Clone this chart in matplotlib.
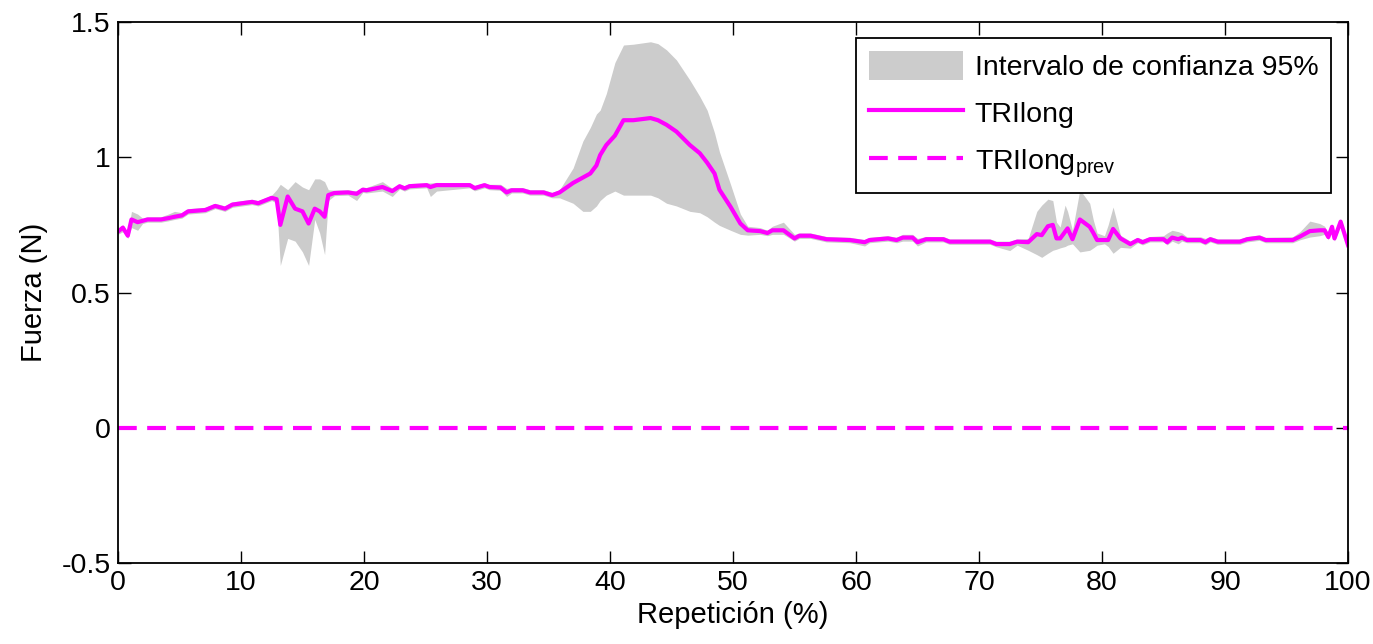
import numpy as np
import matplotlib
matplotlib.use("Agg")
import matplotlib.pyplot as plt

plt.rcParams['font.family'] = ['Liberation Sans', 'DejaVu Sans']
plt.rcParams['mathtext.fontset'] = 'custom'
plt.rcParams['mathtext.rm'] = 'Liberation Sans'

# Repetition (%) sample positions
x = [0.0, 0.4, 0.8, 1.1, 1.6, 2.0, 2.4, 3.5, 4.1, 4.6, 5.2, 5.7, 7.1, 7.9, 8.7,
     9.3, 10.9, 11.4, 12.5, 12.9, 13.2, 13.8, 14.4, 15.0, 15.5, 16.0, 16.4, 16.8,
     17.1, 17.6, 18.7, 19.4, 19.9, 20.2, 21.5, 22.3, 22.9, 23.3, 23.7, 25.1, 25.4,
     25.9, 28.6, 29.0, 29.8, 30.2, 31.1, 31.6, 32.0, 32.9, 33.5, 34.6, 35.3, 35.9,
     37.0, 37.8, 38.4, 38.9, 39.2, 39.7, 40.4, 41.1, 41.9, 43.3, 43.9, 44.6, 45.4,
     46.5, 47.3, 47.9, 48.5, 48.9, 49.8, 50.6, 51.2, 52.2, 52.8, 53.2, 54.1, 55.0,
     55.4, 56.3, 57.6, 59.5, 60.7, 61.1, 62.6, 63.3, 63.8, 64.6, 65.0, 65.7, 67.1,
     67.6, 70.9, 71.4, 72.5, 73.1, 74.0, 74.7, 75.1, 75.6, 76.0, 76.3, 76.6, 77.0,
     77.2, 77.6, 78.2, 79.0, 79.3, 79.6, 80.2, 80.5, 80.9, 81.5, 82.3, 82.9, 83.3,
     83.9, 85.0, 85.3, 85.7, 86.2, 86.5, 86.9, 88.0, 88.4, 88.8, 89.4, 91.2, 91.8,
     92.8, 93.3, 95.5, 96.1, 96.9, 97.7, 98.1, 98.4, 98.7, 98.9, 99.4, 100.0]

# mean force TRIlong (N)
mean = [0.725, 0.74, 0.71, 0.77, 0.76, 0.765, 0.77, 0.77, 0.775, 0.78, 0.785, 0.80, 0.805, 0.82, 0.81,
        0.825, 0.835, 0.83, 0.85, 0.845, 0.75, 0.855, 0.81, 0.80, 0.755, 0.81, 0.80, 0.78,
        0.86, 0.868, 0.87, 0.865, 0.88, 0.878, 0.89, 0.875, 0.893, 0.885, 0.893, 0.897, 0.89,
        0.897, 0.897, 0.886, 0.897, 0.89, 0.888, 0.87, 0.878, 0.878, 0.87, 0.87, 0.86, 0.87,
        0.905, 0.925, 0.94, 0.97, 1.008, 1.045, 1.08, 1.137, 1.137, 1.145, 1.137, 1.12, 1.095,
        1.045, 1.015, 0.98, 0.94, 0.88, 0.817, 0.755, 0.73, 0.727, 0.72, 0.73, 0.73, 0.70,
        0.71, 0.71, 0.697, 0.694, 0.686, 0.694, 0.70, 0.694, 0.703, 0.703, 0.686, 0.697, 0.697,
        0.688, 0.688, 0.679, 0.679, 0.688, 0.686, 0.716, 0.712, 0.745, 0.75, 0.70, 0.70, 0.725,
        0.737, 0.697, 0.77, 0.743, 0.72, 0.694, 0.694, 0.694, 0.735, 0.70, 0.679, 0.694, 0.686,
        0.697, 0.697, 0.686, 0.703, 0.697, 0.703, 0.694, 0.694, 0.686, 0.697, 0.688, 0.688, 0.697,
        0.703, 0.694, 0.694, 0.707, 0.727, 0.73, 0.73, 0.705, 0.743, 0.70, 0.762, 0.675]

# 95% confidence interval bounds
lower = [0.715, 0.725, 0.70, 0.74, 0.73, 0.755, 0.76, 0.76, 0.765, 0.77, 0.775, 0.79, 0.795, 0.81, 0.80,
         0.815, 0.825, 0.82, 0.84, 0.83, 0.60, 0.70, 0.69, 0.65, 0.60, 0.77, 0.72, 0.64,
         0.84, 0.858, 0.86, 0.84, 0.87, 0.868, 0.875, 0.855, 0.883, 0.875, 0.883, 0.887, 0.855,
         0.875, 0.887, 0.876, 0.887, 0.88, 0.878, 0.855, 0.868, 0.868, 0.86, 0.86, 0.85, 0.85,
         0.83, 0.80, 0.80, 0.82, 0.84, 0.86, 0.875, 0.86, 0.86, 0.86, 0.85, 0.83, 0.82,
         0.80, 0.795, 0.78, 0.76, 0.748, 0.73, 0.715, 0.712, 0.715, 0.71, 0.715, 0.715, 0.69,
         0.70, 0.70, 0.687, 0.684, 0.672, 0.684, 0.69, 0.684, 0.69, 0.69, 0.672, 0.687, 0.687,
         0.678, 0.678, 0.669, 0.655, 0.675, 0.656, 0.64, 0.63, 0.645, 0.656, 0.66, 0.665, 0.67,
         0.675, 0.68, 0.65, 0.656, 0.665, 0.675, 0.68, 0.67, 0.645, 0.667, 0.664, 0.684, 0.676,
         0.687, 0.687, 0.676, 0.69, 0.68, 0.69, 0.684, 0.684, 0.676, 0.687, 0.678, 0.678, 0.687,
         0.693, 0.684, 0.684, 0.695, 0.705, 0.71, 0.715, 0.695, 0.733, 0.69, 0.752, 0.665]

upper = [0.735, 0.75, 0.72, 0.80, 0.79, 0.775, 0.78, 0.78, 0.79, 0.80, 0.795, 0.81, 0.815, 0.83, 0.82,
         0.835, 0.845, 0.84, 0.86, 0.88, 0.90, 0.88, 0.91, 0.89, 0.88, 0.92, 0.92, 0.91,
         0.88, 0.878, 0.88, 0.875, 0.89, 0.888, 0.91, 0.885, 0.90, 0.895, 0.903, 0.905, 0.905,
         0.907, 0.905, 0.896, 0.905, 0.90, 0.90, 0.885, 0.888, 0.888, 0.88, 0.88, 0.87, 0.88,
         0.96, 1.06, 1.11, 1.16, 1.174, 1.235, 1.35, 1.415, 1.418, 1.427, 1.42, 1.397, 1.36,
         1.285, 1.225, 1.174, 1.09, 1.02, 0.90, 0.79, 0.745, 0.74, 0.73, 0.745, 0.76, 0.715,
         0.72, 0.72, 0.707, 0.704, 0.696, 0.704, 0.71, 0.704, 0.715, 0.715, 0.70, 0.707, 0.707,
         0.698, 0.698, 0.69, 0.69, 0.698, 0.70, 0.80, 0.823, 0.845, 0.84, 0.76, 0.742, 0.823,
         0.80, 0.73, 0.88, 0.83, 0.767, 0.72, 0.71, 0.75, 0.816, 0.712, 0.69, 0.704, 0.696,
         0.707, 0.71, 0.72, 0.73, 0.725, 0.72, 0.706, 0.706, 0.70, 0.707, 0.698, 0.698, 0.707,
         0.713, 0.704, 0.706, 0.725, 0.764, 0.755, 0.745, 0.715, 0.753, 0.707, 0.772, 0.685]

prev = [0.0, 0.0]
prev_x = [0, 100]

xticks = [0, 10, 20, 30, 40, 50, 60, 70, 80, 90, 100]
yticks = [-0.5, 0, 0.5, 1, 1.5]
ytick_labels = ['-0.5', '0', '0.5', '1', '1.5']

fig = plt.figure(figsize=(13.73, 6.44), dpi=100)
ax = fig.add_axes([0.0859, 0.1258, 0.8959, 0.84])

ax.fill_between(x, lower, upper, color='#cccccc', linewidth=0,
                label='Intervalo de confianza 95%')
ax.plot(x, mean, color='#ff00ff', linewidth=3, label='TRIlong')
ax.plot(prev_x, prev, color='#ff00ff', linewidth=3, linestyle=(0, (4.5, 2.5)),
        label=r'TRIlong$_\mathregular{prev}$')

ax.set_xlim(0, 100)
ax.set_ylim(-0.5, 1.5)
ax.set_xticks(xticks)
ax.set_yticks(yticks)
ax.set_yticklabels(ytick_labels)
ax.tick_params(direction='in', length=9, width=1, top=True, right=True,
               labelsize=20.5, pad=5)
for s in ax.spines.values():
    s.set_linewidth(1.3)

ax.set_xlabel('Repetición (%)', fontsize=21, labelpad=4)
ax.set_ylabel('Fuerza (N)', fontsize=21, labelpad=10)

leg = ax.legend(loc='upper right', bbox_to_anchor=(0.9862, 0.9704), borderaxespad=0,
                fontsize=20.5, fancybox=False, edgecolor='black', framealpha=1,
                handlelength=3.3, handleheight=1.2, handletextpad=0.4,
                labelspacing=0.6, borderpad=0.45)
leg.get_frame().set_linewidth(1.3)

fig.savefig('out.png', dpi=100)
